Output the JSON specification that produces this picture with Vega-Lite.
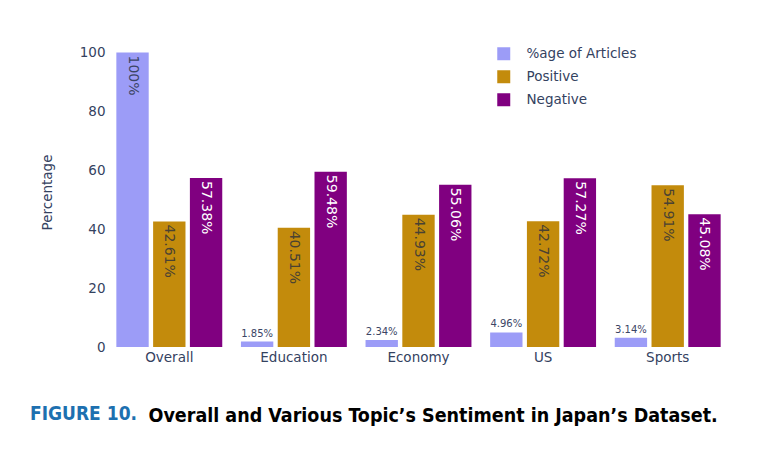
{
  "$schema": "https://vega.github.io/schema/vega-lite/v6.json",
  "width": 623,
  "height": 310,
  "autosize": {"type": "none"},
  "padding": {"left": 107, "top": 37, "right": 38, "bottom": 117},
  "background": "white",
  "config": {
    "view": {"stroke": null},
    "font": "DejaVu Sans"
  },
  "title": {
    "text": "FIGURE 10.",
    "orient": "bottom",
    "anchor": "start",
    "frame": "group",
    "baseline": "alphabetic",
    "dx": -77,
    "offset": -5,
    "color": "#1d70b0",
    "font": "DejaVu Sans Condensed",
    "fontSize": 19,
    "fontWeight": "bold"
  },
  "data": {
    "values": [
      {"topic": "Overall", "series": "%age of Articles", "value": 100},
      {"topic": "Overall", "series": "Positive", "value": 42.61},
      {"topic": "Overall", "series": "Negative", "value": 57.38},
      {"topic": "Education", "series": "%age of Articles", "value": 1.85},
      {"topic": "Education", "series": "Positive", "value": 40.51},
      {"topic": "Education", "series": "Negative", "value": 59.48},
      {"topic": "Economy", "series": "%age of Articles", "value": 2.34},
      {"topic": "Economy", "series": "Positive", "value": 44.93},
      {"topic": "Economy", "series": "Negative", "value": 55.06},
      {"topic": "US", "series": "%age of Articles", "value": 4.96},
      {"topic": "US", "series": "Positive", "value": 42.72},
      {"topic": "US", "series": "Negative", "value": 57.27},
      {"topic": "Sports", "series": "%age of Articles", "value": 3.14},
      {"topic": "Sports", "series": "Positive", "value": 54.91},
      {"topic": "Sports", "series": "Negative", "value": 45.08}
    ]
  },
  "encoding": {
    "x": {
      "field": "topic",
      "type": "nominal",
      "sort": ["Overall", "Education", "Economy", "US", "Sports"],
      "scale": {"paddingInner": 0.15, "paddingOuter": 0.075},
      "axis": {
        "labelAngle": 0,
        "domain": false,
        "ticks": false,
        "grid": false,
        "labelPadding": 3,
        "labelFontSize": 13.5,
        "labelColor": "#34425f",
        "title": "Overall and Various Topic’s Sentiment in Japan’s Dataset.",
        "titleAnchor": "start",
        "titleAlign": "left",
        "titleBaseline": "alphabetic",
        "titleX": 41,
        "titleY": 74,
        "titleFont": "DejaVu Sans Condensed",
        "titleFontSize": 19.5,
        "titleFontWeight": "bold",
        "titleColor": "#000000"
      }
    },
    "xOffset": {
      "field": "series",
      "sort": ["%age of Articles", "Positive", "Negative"],
      "scale": {"paddingInner": 0.12, "paddingOuter": 0}
    },
    "y": {
      "field": "value",
      "type": "quantitative",
      "scale": {"domain": [0, 105.26], "nice": false},
      "axis": {
        "values": [0, 20, 40, 60, 80, 100],
        "grid": false,
        "domain": false,
        "ticks": false,
        "labelPadding": 2,
        "labelFontSize": 13.5,
        "labelColor": "#34425f",
        "title": "Percentage",
        "titleFontSize": 13.5,
        "titleFontWeight": "normal",
        "titleColor": "#34425f",
        "titlePadding": 25
      }
    }
  },
  "layer": [
    {
      "mark": {"type": "bar"},
      "encoding": {
        "color": {
          "field": "series",
          "type": "nominal",
          "scale": {
            "domain": ["%age of Articles", "Positive", "Negative"],
            "range": ["#9c9cf7", "#c38b0c", "#800080"]
          },
          "legend": {
            "title": null,
            "orient": "none",
            "legendX": 390,
            "legendY": 10,
            "padding": 0,
            "symbolType": "square",
            "symbolSize": 169,
            "symbolStrokeWidth": 0,
            "labelFontSize": 13.5,
            "labelColor": "#34425f",
            "labelOffset": 16,
            "rowPadding": 8
          }
        }
      }
    },
    {
      "transform": [{"filter": "datum.value >= 10"}],
      "mark": {
        "type": "text",
        "angle": 90,
        "align": "left",
        "baseline": "middle",
        "dx": 3,
        "fontSize": 14,
        "text": {"expr": "datum.value + '%'"}
      },
      "encoding": {
        "color": {
          "condition": [
            {"test": "datum.series === 'Negative'", "value": "#ffffff"},
            {"test": "datum.series === 'Positive'", "value": "#4a4232"}
          ],
          "value": "#3b4565"
        }
      }
    },
    {
      "transform": [{"filter": "datum.value < 10"}],
      "mark": {
        "type": "text",
        "align": "center",
        "baseline": "alphabetic",
        "dy": -5,
        "fontSize": 10,
        "color": "#3b4565",
        "text": {"expr": "datum.value + '%'"}
      }
    }
  ]
}
